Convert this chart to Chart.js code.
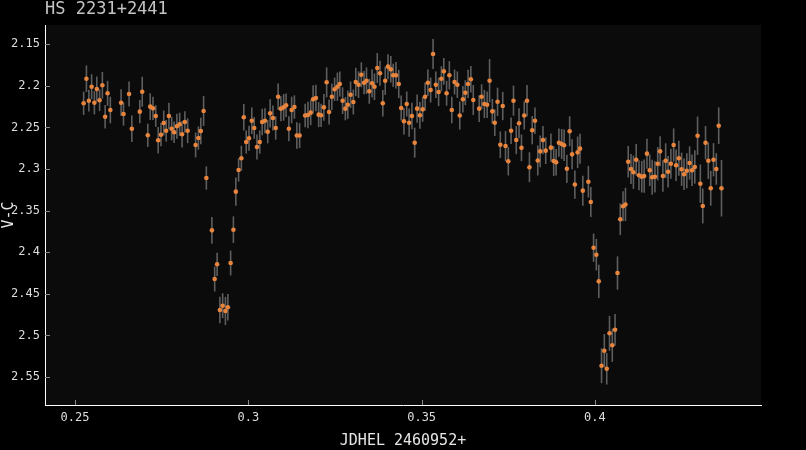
<!DOCTYPE html>
<html>
<head>
<meta charset="utf-8">
<title>HS 2231+2441</title>
<script src="https://cdn.jsdelivr.net/npm/chart.js@4.4.1/dist/chart.umd.min.js"></script>
<style>
  html, body { margin: 0; padding: 0; background: #000; }
  canvas { display: block; }
</style>
</head>
<body>
<canvas id="lc" width="806" height="450"></canvas>
<script>
// light curve data: JD offset, V-C magnitude, 1-sigma error
const jd = [
  0.2525, 0.2533, 0.2540, 0.2548, 0.2556, 0.2563, 0.2571, 0.2579, 0.2587, 0.2594, 0.2602,
  0.2633, 0.2640, 0.2656, 0.2664, 0.2687, 0.2694, 0.2710, 0.2717, 0.2725,
  0.2733, 0.2740, 0.2748, 0.2756, 0.2763, 0.2771, 0.2779, 0.2786, 0.2794, 0.2802, 0.2809, 0.2817, 0.2825,
  0.2848, 0.2856, 0.2863, 0.2871, 0.2879, 0.2895, 0.2903, 0.2910, 0.2918, 0.2926, 0.2934, 0.2941, 0.2949, 0.2957, 0.2964, 0.2972, 0.2980,
  0.2987, 0.2994, 0.3002, 0.3010, 0.3017, 0.3025, 0.3033, 0.3040, 0.3048, 0.3056, 0.3063, 0.3071, 0.3079, 0.3086, 0.3094, 0.3102, 0.3109, 0.3117, 0.3125, 0.3133,
  0.3140, 0.3148, 0.3164, 0.3172, 0.3180, 0.3187, 0.3195, 0.3203, 0.3210, 0.3218, 0.3226, 0.3233, 0.3241, 0.3249, 0.3257, 0.3264, 0.3272, 0.3280, 0.3287, 0.3295,
  0.3303, 0.3310, 0.3318, 0.3326, 0.3334, 0.3341, 0.3349, 0.3357, 0.3364, 0.3372, 0.3380, 0.3388, 0.3395, 0.3403, 0.3411, 0.3418, 0.3426, 0.3434, 0.3441, 0.3449,
  0.3457, 0.3464, 0.3472, 0.3480, 0.3487, 0.3495, 0.3503, 0.3510, 0.3518, 0.3526, 0.3533, 0.3541, 0.3549, 0.3557, 0.3564, 0.3572, 0.3580, 0.3587, 0.3595, 0.3603,
  0.3610, 0.3619, 0.3626, 0.3634, 0.3642, 0.3649, 0.3666, 0.3673, 0.3681, 0.3689, 0.3696, 0.3704, 0.3711, 0.3719, 0.3727, 0.3734, 0.3742, 0.3750, 0.3758, 0.3765,
  0.3773, 0.3781, 0.3788, 0.3796, 0.3804, 0.3811, 0.3819, 0.3827, 0.3835, 0.3842, 0.3850, 0.3858, 0.3873, 0.3881, 0.3888, 0.3896, 0.3904, 0.3911, 0.3919, 0.3927,
  0.3934, 0.3942, 0.3950, 0.3957, 0.3965, 0.3981, 0.3988, 0.3996, 0.4004, 0.4011, 0.4019, 0.4027, 0.4034, 0.4042, 0.4050, 0.4058, 0.4065, 0.4073, 0.4081, 0.4088,
  0.4096, 0.4104, 0.4111, 0.4119, 0.4127, 0.4135, 0.4142, 0.4150, 0.4158, 0.4165, 0.4173, 0.4181, 0.4188, 0.4196, 0.4204, 0.4211, 0.4219, 0.4227, 0.4234, 0.4242,
  0.4250, 0.4257, 0.4265, 0.4273, 0.4280, 0.4288, 0.4296, 0.4304, 0.4311, 0.4319, 0.4327, 0.4334, 0.4342, 0.4350, 0.4357, 0.4365
];
const vc = [
  2.2209, 2.1914, 2.2178, 2.2010, 2.2202, 2.2037, 2.2173, 2.1993, 2.2371, 2.2089, 2.2290,
  2.2202, 2.2338, 2.2098, 2.2515, 2.2310, 2.2070, 2.2594, 2.2250, 2.2270,
  2.2362, 2.2654, 2.2587, 2.2446, 2.2539, 2.2362, 2.2515, 2.2558, 2.2486, 2.2462, 2.2582, 2.2434, 2.2539,
  2.2711, 2.2627, 2.2543, 2.2302, 2.3108, 2.3737, 2.4322, 2.4145, 2.4695, 2.4643, 2.4707, 2.4662, 2.4130, 2.3729, 2.3272, 2.3011, 2.2871,
  2.2378, 2.2675, 2.2630, 2.2419, 2.2506, 2.2735, 2.2675, 2.2434, 2.2419, 2.2551, 2.2330, 2.2386, 2.2506, 2.2130, 2.2274, 2.2258, 2.2233, 2.2515, 2.2290, 2.2254,
  2.2597, 2.2597, 2.2356, 2.2350, 2.2322, 2.2161, 2.2146, 2.2346, 2.2354, 2.2258, 2.1957, 2.2314, 2.2130, 2.2041, 2.2010, 2.1977, 2.2178, 2.2274, 2.2226, 2.2106,
  2.2194, 2.1953, 2.1986, 2.1866, 2.1962, 2.1938, 2.2065, 2.1969, 2.2010, 2.1785, 2.1849, 2.2209, 2.1938, 2.1769, 2.1801, 2.1873, 2.1873, 2.1977, 2.2266, 2.2426,
  2.2218, 2.2443, 2.2362, 2.2683, 2.2274, 2.2354, 2.2282, 2.2130, 2.1962, 2.2050, 2.1617, 2.1986, 2.2074, 2.1914, 2.1825, 2.2089, 2.1873, 2.2290, 2.1953, 2.1986,
  2.2356, 2.2161, 2.2082, 2.1977, 2.1920, 2.2170, 2.2274, 2.2130, 2.2218, 2.2227, 2.1938, 2.2306, 2.2443, 2.2191, 2.2708, 2.2242, 2.2723, 2.2907, 2.2539, 2.2178,
  2.2651, 2.2450, 2.2745, 2.2356, 2.2178, 2.2978, 2.2533, 2.2419, 2.2897, 2.2787, 2.2651, 2.2779, 2.2743, 2.2903, 2.2919, 2.2683, 2.2699, 2.2714, 2.2997, 2.2546,
  2.2823, 2.3186, 2.2799, 2.2755, 2.3260, 2.3152, 2.3396, 2.3946, 2.4030, 2.4350, 2.5365, 2.5184, 2.5401, 2.4975, 2.5119, 2.4932, 2.4250, 2.3604, 2.3447, 2.3426,
  2.2912, 2.2999, 2.3039, 2.2888, 2.3074, 2.3092, 2.3084, 2.2815, 2.3015, 2.3099, 2.3092, 2.2936, 2.2787, 2.3084, 2.2900, 2.3032, 2.2936, 2.2711, 2.2955, 2.2871,
  2.3003, 2.3063, 2.3020, 2.2927, 2.3015, 2.2975, 2.2599, 2.3176, 2.3444, 2.2683, 2.2900, 2.3231, 2.2888, 2.2999, 2.2479, 2.3231
];
const vcErr = [
  0.014, 0.016, 0.013, 0.015, 0.014, 0.015, 0.013, 0.016, 0.014, 0.015, 0.016,
  0.016, 0.014, 0.015, 0.016, 0.014, 0.018, 0.014, 0.016, 0.014,
  0.013, 0.016, 0.014, 0.015, 0.013, 0.016, 0.014, 0.013, 0.015, 0.014, 0.016, 0.013, 0.015,
  0.015, 0.014, 0.016, 0.018, 0.014, 0.016, 0.015, 0.014, 0.016, 0.015, 0.017, 0.016, 0.015, 0.016, 0.017, 0.014, 0.015,
  0.016, 0.014, 0.015, 0.016, 0.013, 0.015, 0.014, 0.016, 0.015, 0.014, 0.017, 0.015, 0.014, 0.016, 0.015, 0.016, 0.014, 0.015, 0.016, 0.014,
  0.016, 0.015, 0.014, 0.016, 0.015, 0.017, 0.016, 0.015, 0.014, 0.016, 0.018, 0.015, 0.016, 0.014, 0.017, 0.015, 0.016, 0.014, 0.017, 0.016,
  0.015, 0.017, 0.016, 0.015, 0.014, 0.016, 0.015, 0.017, 0.016, 0.018, 0.015, 0.016, 0.017, 0.015, 0.016, 0.014, 0.016, 0.017, 0.015, 0.016,
  0.015, 0.017, 0.016, 0.018, 0.017, 0.016, 0.015, 0.017, 0.016, 0.015, 0.018, 0.016, 0.017, 0.015, 0.016, 0.015, 0.017, 0.016, 0.015, 0.016,
  0.017, 0.016, 0.015, 0.017, 0.016, 0.018, 0.016, 0.015, 0.017, 0.016, 0.026, 0.015, 0.016, 0.017, 0.016, 0.017, 0.018, 0.017, 0.016, 0.018,
  0.017, 0.018, 0.016, 0.017, 0.019, 0.018, 0.017, 0.016, 0.018, 0.019, 0.017, 0.016, 0.017, 0.018, 0.016, 0.017, 0.018, 0.019, 0.017, 0.018,
  0.018, 0.017, 0.019, 0.018, 0.018, 0.019, 0.018, 0.017, 0.019, 0.020, 0.021, 0.020, 0.019, 0.021, 0.020, 0.019, 0.020, 0.019, 0.018, 0.020,
  0.019, 0.018, 0.020, 0.019, 0.018, 0.019, 0.020, 0.018, 0.019, 0.021, 0.019, 0.020, 0.018, 0.019, 0.021, 0.019, 0.018, 0.020, 0.019, 0.021,
  0.020, 0.019, 0.021, 0.020, 0.019, 0.020, 0.023, 0.023, 0.021, 0.020, 0.022, 0.021, 0.020, 0.019, 0.022, 0.034
];

const xTicks = [0.25, 0.3, 0.35, 0.4];
const yTicks = [2.15, 2.2, 2.25, 2.3, 2.35, 2.4, 2.45, 2.5, 2.55];

const MONO = '"DejaVu Sans Mono", "Liberation Mono", monospace';

// black page, slightly lighter plot area
const background = {
  id: 'background',
  beforeDraw(chart) {
    const {ctx, chartArea: a} = chart;
    ctx.save();
    ctx.fillStyle = '#000';
    ctx.fillRect(0, 0, chart.width, chart.height);
    ctx.fillStyle = '#0b0b0b';
    ctx.fillRect(a.left, a.top, a.right - a.left, a.bottom - a.top);
    ctx.restore();
  }
};

// vertical error bars under the points
const errorBars = {
  id: 'errorBars',
  beforeDatasetsDraw(chart) {
    const {ctx, chartArea: a, scales: {x, y}} = chart;
    ctx.save();
    ctx.beginPath();
    ctx.rect(a.left, a.top, a.right - a.left, a.bottom - a.top);
    ctx.clip();
    ctx.strokeStyle = 'rgba(150,150,150,0.6)';
    ctx.lineWidth = 1.6;
    for (let i = 0; i < jd.length; i++) {
      const px = x.getPixelForValue(jd[i]);
      ctx.beginPath();
      ctx.moveTo(px, y.getPixelForValue(vc[i] - vcErr[i]));
      ctx.lineTo(px, y.getPixelForValue(vc[i] + vcErr[i]));
      ctx.stroke();
    }
    ctx.restore();
  }
};

// short tick marks pointing into the plot
const innerTicks = {
  id: 'innerTicks',
  afterDraw(chart) {
    const {ctx, chartArea: a, scales: {x, y}} = chart;
    ctx.save();
    ctx.strokeStyle = '#8a8a8a';
    ctx.lineWidth = 1;
    ctx.beginPath();
    x.ticks.forEach(t => {
      const px = Math.round(x.getPixelForValue(t.value)) + 0.5;
      ctx.moveTo(px, a.bottom);
      ctx.lineTo(px, a.bottom - 5);
    });
    y.ticks.forEach(t => {
      const py = Math.round(y.getPixelForValue(t.value)) + 0.5;
      ctx.moveTo(a.left, py);
      ctx.lineTo(a.left + 5, py);
    });
    ctx.stroke();
    ctx.restore();
  }
};

new Chart(document.getElementById('lc'), {
  type: 'scatter',
  data: {
    datasets: [{
      data: jd.map((v, i) => ({x: v, y: vc[i]})),
      backgroundColor: '#e8843c',
      borderWidth: 0,
      pointRadius: 2.3,
      pointHoverRadius: 2.3
    }]
  },
  options: {
    responsive: false,
    animation: false,
    layout: { padding: { top: 0, right: 45, bottom: 0, left: 0 } },
    plugins: {
      legend: { display: false },
      tooltip: { enabled: false },
      title: {
        display: true,
        text: 'HS 2231+2441',
        align: 'start',
        fullSize: false,
        color: '#c4c4c4',
        font: { family: MONO, size: 17, weight: 'normal', lineHeight: 1.1 },
        padding: { top: 0, bottom: 6.3 }
      }
    },
    scales: {
      x: {
        type: 'linear',
        min: 0.24135,
        max: 0.4479,
        afterBuildTicks: s => { s.ticks = xTicks.map(v => ({value: v})); },
        afterFit: s => { s.height = 45; },
        grid: { display: false, drawTicks: false },
        border: { display: true, color: '#ffffff', width: 1 },
        ticks: {
          color: '#dddddd',
          font: { family: MONO, size: 12 },
          padding: 6,
          callback: v => String(v)
        },
        title: {
          display: true,
          text: 'JDHEL 2460952+',
          color: '#e6e6e6',
          font: { family: MONO, size: 15, lineHeight: 1.2 },
          padding: { top: 0, bottom: 0 }
        }
      },
      y: {
        type: 'linear',
        reverse: true,
        min: 2.1268,
        max: 2.5837,
        afterBuildTicks: s => { s.ticks = yTicks.map(v => ({value: v})); },
        afterFit: s => { s.width = 45; },
        grid: { display: false, drawTicks: false },
        border: { display: true, color: '#ffffff', width: 1 },
        ticks: {
          color: '#dddddd',
          font: { family: MONO, size: 12 },
          padding: 5,
          callback: v => String(v)
        },
        title: {
          display: true,
          text: 'V-C',
          color: '#e6e6e6',
          font: { family: MONO, size: 15, lineHeight: 1.2 },
          padding: { top: 0, bottom: 0 }
        }
      }
    }
  },
  plugins: [background, errorBars, innerTicks]
});
</script>
</body>
</html>
